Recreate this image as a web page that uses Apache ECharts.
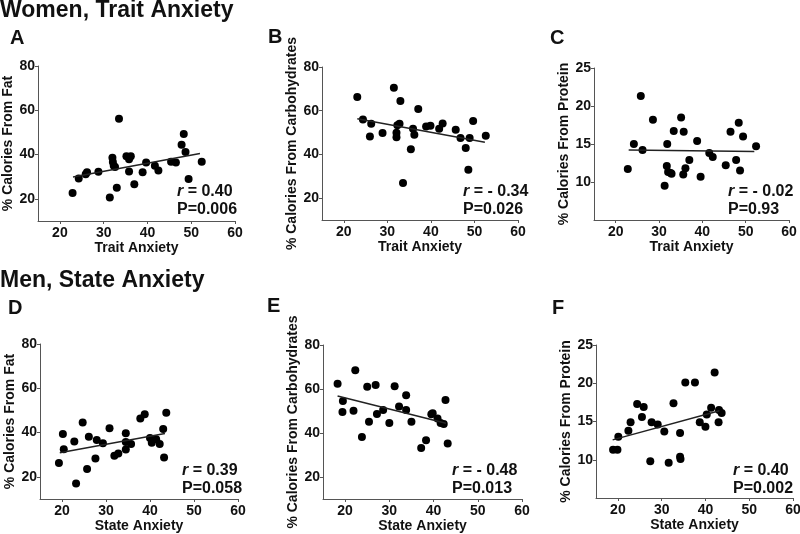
<!DOCTYPE html>
<html>
<head>
<meta charset="utf-8">
<script src="https://cdn.jsdelivr.net/npm/echarts@6/dist/echarts.min.js"></script>
<style>
  html, body { margin: 0; padding: 0; background: #fff; }
  #chart { width: 800px; height: 534px; }
</style>
</head>
<body>
<div id="chart"></div>
<script>
// women, trait anxiety
const fatTraitX = [22.9, 24.3, 25.9, 26.2, 28.8, 31.4, 32.0, 32.1, 32.3, 32.6, 33.0, 33.5, 35.2, 35.8, 36.2, 35.8, 37.0, 38.9, 39.7, 41.7, 42.5, 45.4, 46.5, 47.8, 48.3, 48.7, 49.4, 52.4]
const fatTraitY = [22.7, 29.2, 31.1, 32.0, 32.2, 20.6, 38.6, 36.7, 34.9, 34.4, 25.0, 56.2, 39.2, 37.9, 39.2, 32.3, 26.6, 32.0, 36.4, 34.9, 32.8, 36.8, 36.4, 44.4, 49.3, 41.2, 29.0, 36.8]
const carbTraitX = [23.1, 24.4, 26.3, 26.0, 28.9, 31.5, 32.1, 32.1, 32.3, 32.8, 33.0, 33.6, 35.4, 35.9, 36.2, 37.1, 38.9, 39.9, 41.9, 42.7, 45.7, 46.8, 48.0, 48.6, 48.9, 49.7, 52.6]
const carbTraitY = [66.3, 56.0, 54.0, 48.2, 49.8, 70.5, 49.9, 47.9, 53.3, 54.0, 64.4, 26.9, 42.4, 51.8, 49.0, 60.8, 52.8, 53.1, 51.8, 54.2, 51.3, 47.5, 42.9, 33.0, 47.5, 55.3, 48.5]
const protTraitX = [22.8, 24.2, 25.8, 26.2, 28.6, 31.3, 31.8, 31.9, 32.1, 32.7, 32.9, 33.4, 35.1, 35.6, 35.7, 36.1, 37.0, 38.8, 39.6, 41.6, 42.4, 45.4, 46.5, 47.8, 48.4, 48.7, 49.4, 52.4]
const protTraitY = [11.7, 15.0, 21.3, 14.2, 18.2, 9.5, 12.1, 15.0, 11.3, 11.2, 11.1, 16.7, 18.5, 11.0, 16.6, 11.8, 12.9, 15.4, 10.7, 13.8, 13.3, 12.2, 16.6, 12.9, 17.8, 11.5, 16.0, 14.7]

// men, state anxiety
const fatStateX = [19.3, 20.2, 20.4, 22.8, 23.2, 24.7, 25.7, 26.1, 27.6, 27.9, 29.3, 30.8, 31.9, 32.8, 34.5, 34.5, 34.5, 35.7, 37.8, 38.8, 40.0, 40.4, 41.4, 42.2, 43.0, 43.2, 43.7]
const fatStateY = [26.3, 39.3, 32.5, 36.0, 17.0, 44.6, 23.6, 38.1, 28.3, 36.6, 35.2, 42.0, 29.5, 30.6, 39.7, 35.7, 32.4, 34.8, 46.4, 48.3, 37.6, 35.4, 37.0, 34.8, 41.6, 28.7, 48.9]
const carbStateX = [18.3, 19.5, 19.4, 21.9, 22.3, 23.8, 25.0, 25.4, 26.9, 27.2, 28.6, 30.0, 31.2, 32.2, 33.8, 33.8, 35.0, 37.2, 38.3, 39.5, 39.8, 40.9, 41.6, 42.3, 42.7, 43.2]
const carbStateY = [62.4, 54.5, 49.6, 50.1, 68.5, 38.2, 61.0, 45.1, 61.8, 48.6, 50.4, 44.5, 61.2, 52.1, 57.2, 50.4, 45.1, 33.2, 36.7, 48.5, 49.0, 46.6, 44.5, 44.1, 55.0, 35.2]
const protStateX = [18.9, 19.9, 20.1, 22.4, 22.9, 24.4, 25.5, 25.9, 27.4, 27.7, 29.1, 30.6, 31.6, 32.7, 34.2, 34.2, 34.3, 35.4, 37.6, 38.7, 40.0, 40.3, 41.3, 42.1, 43.0, 43.1, 43.7]
const protStateY = [11.3, 11.3, 13.0, 13.8, 14.9, 17.3, 15.6, 16.9, 9.8, 14.9, 14.6, 13.7, 9.6, 17.4, 13.5, 10.4, 10.1, 20.1, 20.1, 14.9, 14.3, 15.9, 16.8, 21.4, 14.9, 16.5, 16.1]

// regression line end points [x1, y1, x2, y2]
const fitA = [23.0, 29.9, 52.0, 40.5]
const fitB = [23.1, 56.3, 52.4, 45.6]
const fitC = [23.0, 14.2, 52.0, 14.0]
const fitD = [19.5, 30.9, 43.4, 39.6]
const fitE = [18.3, 56.8, 42.8, 44.4]
const fitF = [18.8, 12.6, 43.2, 16.4]

const rValues = ['0.40', '- 0.34', '- 0.02', '0.39', '- 0.48', '0.40']
const pValues = ['0.006', '0.026', '0.93', '0.058', '0.013', '0.002']
const panelLetters = ['A', 'B', 'C', 'D', 'E', 'F']
const xTicks = [20, 30, 40, 50, 60]
const pctTicks = [20, 40, 60, 80]
const protTicks = [10, 15, 20, 25]

const FONT = 'Liberation Sans, Arial, sans-serif'
const AXIS_COLOR = '#555'

const panels = [
  { x: fatTraitX, y: fatTraitY, fit: fitA, xName: 'Trait Anxiety', yName: '% Calories From Fat', ymin: 10, ymax: 80, yTicks: pctTicks,
    grid: { left: 38, top: 66, width: 197, height: 155 }, stat: [177, 183] },
  { x: carbTraitX, y: carbTraitY, fit: fitB, xName: 'Trait Anxiety', yName: '% Calories From Carbohydrates', ymin: 10, ymax: 80, yTicks: pctTicks,
    grid: { left: 322, top: 67, width: 196, height: 153 }, stat: [463, 183] },
  { x: protTraitX, y: protTraitY, fit: fitC, xName: 'Trait Anxiety', yName: '% Calories From Protein', ymin: 5, ymax: 25, yTicks: protTicks,
    grid: { left: 594, top: 68, width: 195, height: 152 }, stat: [728, 183] },
  { x: fatStateX, y: fatStateY, fit: fitD, xName: 'State Anxiety', yName: '% Calories From Fat', ymin: 10, ymax: 80, yTicks: pctTicks,
    grid: { left: 40, top: 344, width: 198, height: 155 }, stat: [182, 462] },
  { x: carbStateX, y: carbStateY, fit: fitE, xName: 'State Anxiety', yName: '% Calories From Carbohydrates', ymin: 10, ymax: 80, yTicks: pctTicks,
    grid: { left: 323, top: 345, width: 199, height: 154 }, stat: [452, 462] },
  { x: protStateX, y: protStateY, fit: fitF, xName: 'State Anxiety', yName: '% Calories From Protein', ymin: 5, ymax: 25, yTicks: protTicks,
    grid: { left: 596, top: 345, width: 197, height: 153 }, stat: [733, 462] }
]
const letterPos = [[10, 28], [268, 27], [550, 28], [8, 298], [267, 296], [552, 298]]

const chart = echarts.init(document.getElementById('chart'))

const axisCommon = {
  axisLine: { show: true, lineStyle: { color: AXIS_COLOR, width: 1 } },
  axisTick: { show: true, length: 3, lineStyle: { color: AXIS_COLOR } },
  splitLine: { show: false },
  nameLocation: 'middle',
  nameTextStyle: { fontFamily: FONT, fontWeight: 'bold', fontSize: 14, color: '#111' }
}

const titles = [
  { text: 'Women, Trait Anxiety', left: 0, top: -1 },
  { text: 'Men, State Anxiety', left: 0, top: 269 }
].map(t => ({ ...t, padding: 0, textStyle: { fontFamily: FONT, fontWeight: 'bold', fontSize: 23, color: '#111' } }))

panelLetters.forEach((l, i) => {
  titles.push({
    text: l, left: letterPos[i][0], top: letterPos[i][1], padding: 0,
    textStyle: { fontFamily: FONT, fontWeight: 'bold', fontSize: 20, color: '#111' }
  })
})

panels.forEach((p, i) => {
  titles.push({
    text: '{i|r} = ' + rValues[i] + '\nP=' + pValues[i],
    left: p.stat[0], top: p.stat[1], padding: 0,
    textStyle: {
      fontFamily: FONT, fontWeight: 'bold', fontSize: 16, lineHeight: 18, color: '#111',
      rich: { i: { fontFamily: FONT, fontWeight: 'bold', fontStyle: 'italic', fontSize: 16, lineHeight: 18, color: '#111' } }
    }
  })
})

const option = {
  animation: false,
  backgroundColor: '#fff',
  title: titles,
  grid: panels.map(p => ({ ...p.grid, outerBoundsMode: 'none' })),
  xAxis: panels.map((p, i) => ({
    ...axisCommon,
    type: 'value',
    gridIndex: i,
    min: 15,
    max: 60,
    name: p.xName,
    nameGap: 18,
    axisTick: { ...axisCommon.axisTick, customValues: xTicks },
    axisLabel: { customValues: xTicks, margin: 5, fontFamily: FONT, fontWeight: 'bold', fontSize: 14, color: '#111' }
  })),
  yAxis: panels.map((p, i) => ({
    ...axisCommon,
    type: 'value',
    gridIndex: i,
    min: p.ymin,
    max: p.ymax,
    name: p.yName,
    nameGap: 15,
    axisTick: { ...axisCommon.axisTick, customValues: p.yTicks },
    axisLabel: { customValues: p.yTicks, margin: 3, fontFamily: FONT, fontWeight: 'bold', fontSize: 14, color: '#111' }
  })),
  series: panels.flatMap((p, i) => [
    {
      type: 'scatter',
      xAxisIndex: i,
      yAxisIndex: i,
      symbolSize: 8,
      itemStyle: { color: '#000', opacity: 1 },
      data: p.x.map((v, k) => [v, p.y[k]])
    },
    {
      type: 'line',
      xAxisIndex: i,
      yAxisIndex: i,
      symbol: 'none',
      lineStyle: { color: '#222', width: 1.5 },
      data: [[p.fit[0], p.fit[1]], [p.fit[2], p.fit[3]]]
    }
  ])
}

chart.setOption(option)
</script>
</body>
</html>
